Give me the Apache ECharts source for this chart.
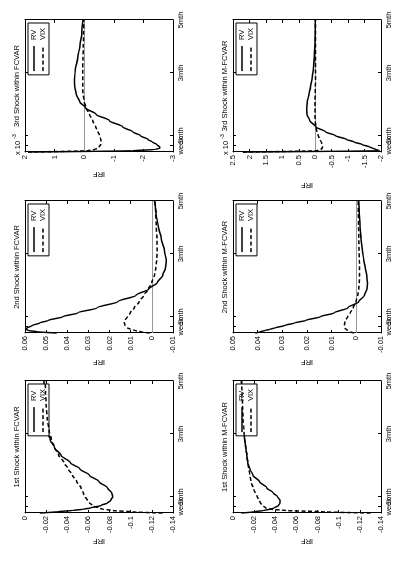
<!DOCTYPE html>
<html>
<head>
<meta charset="utf-8" />
<title>IRF FCVAR / M-FCVAR</title>
<style>
  html, body { margin: 0; padding: 0; background: #fff; }
  #wrap { position: absolute; left: 0; top: 0; width: 395px; height: 565px; overflow: hidden; }
  /* the figure is a landscape page turned a quarter turn anticlockwise */
  #chart { position: absolute; left: 0; top: 0; width: 565px; height: 395px;
           transform-origin: 0 0; transform: translateY(565px) rotate(-90deg); }
</style>
</head>
<body>
<div id="wrap"><div id="chart"></div></div>
<script src="https://cdn.jsdelivr.net/npm/echarts@6/dist/echarts.min.js"></script>
<script>
// horizon in trading days
var horizon = [0, 1, 2, 3, 4, 6, 8, 10, 13, 16, 20, 25, 30, 35, 40, 46, 52, 58, 65, 75, 85, 95, 105];
var horizonTicks = [5, 13, 63, 105];
var horizonLabels = ['week', '1mth', '3mth', '5mth'];
var seriesNames = ['RV', 'VIX'];

// FCVAR
var fcvar1RV  = [-0.014, -0.03, -0.045, -0.055, -0.062, -0.072, -0.078, -0.081, -0.083, -0.082, -0.078, -0.07, -0.061, -0.052, -0.043, -0.034, -0.028, -0.024, -0.021, -0.019, -0.0185, -0.018, -0.018];
var fcvar1VIX = [-0.13, -0.1, -0.083, -0.074, -0.069, -0.064, -0.061, -0.059, -0.057, -0.055, -0.053, -0.049, -0.045, -0.041, -0.037, -0.032, -0.028, -0.025, -0.023, -0.021, -0.02, -0.0195, -0.019];
var fcvar2RV  = [0.045, 0.054, 0.0585, 0.0595, 0.059, 0.0565, 0.053, 0.049, 0.042, 0.035, 0.026, 0.016, 0.0075, 0.0015, -0.0025, -0.0052, -0.0065, -0.0068, -0.006, -0.0045, -0.003, -0.002, -0.0013];
var fcvar2VIX = [0.001, 0.005, 0.008, 0.0102, 0.0115, 0.0127, 0.013, 0.0127, 0.0115, 0.0102, 0.0083, 0.006, 0.0038, 0.0016, 0.0, -0.0012, -0.0019, -0.0023, -0.0025, -0.0024, -0.0021, -0.0018, -0.0015];
// x 10^-3
var fcvar3RV  = [1.9, -1.6, -2.4, -2.55, -2.55, -2.45, -2.3, -2.15, -1.9, -1.65, -1.3, -0.85, -0.4, -0.05, 0.15, 0.27, 0.32, 0.33, 0.3, 0.22, 0.14, 0.08, 0.04];
var fcvar3VIX = [1.9, -0.1, -0.35, -0.45, -0.5, -0.56, -0.57, -0.56, -0.52, -0.47, -0.39, -0.29, -0.18, -0.07, 0.0, 0.04, 0.05, 0.05, 0.05, 0.04, 0.03, 0.02, 0.01];

// M-FCVAR
var mfcvar1RV  = [-0.008, -0.02, -0.029, -0.035, -0.039, -0.043, -0.0445, -0.0445, -0.042, -0.038, -0.032, -0.025, -0.019, -0.016, -0.014, -0.013, -0.012, -0.011, -0.0105, -0.0095, -0.009, -0.0085, -0.008];
var mfcvar1VIX = [-0.13, -0.085, -0.05, -0.036, -0.031, -0.028, -0.026, -0.025, -0.023, -0.021, -0.019, -0.017, -0.016, -0.015, -0.014, -0.013, -0.012, -0.011, -0.0105, -0.0095, -0.009, -0.0085, -0.008];
var mfcvar2RV  = [0.041, 0.039, 0.037, 0.035, 0.033, 0.029, 0.025, 0.0205, 0.0145, 0.009, 0.0035, -0.001, -0.0033, -0.0043, -0.0045, -0.0042, -0.0036, -0.003, -0.0025, -0.0019, -0.0015, -0.0012, -0.001];
var mfcvar2VIX = [0.001, 0.0025, 0.0035, 0.0042, 0.0046, 0.0048, 0.0047, 0.0043, 0.0035, 0.0025, 0.0012, 0.0001, -0.0006, -0.001, -0.0012, -0.0013, -0.0013, -0.0012, -0.0011, -0.001, -0.0009, -0.0008, -0.0008];
// x 10^-3
var mfcvar3RV  = [2.2, -1.95, -1.85, -1.75, -1.65, -1.42, -1.18, -0.95, -0.62, -0.32, -0.02, 0.17, 0.25, 0.26, 0.24, 0.19, 0.14, 0.1, 0.06, 0.03, 0.01, 0.0, 0.0];
var mfcvar3VIX = [2.2, -0.05, -0.17, -0.21, -0.22, -0.21, -0.18, -0.14, -0.09, -0.05, -0.02, 0.0, 0.01, 0.01, 0.01, 0.0, 0.0, -0.01, -0.01, -0.01, -0.01, -0.01, -0.01];

// value axis [min, max, step]
var irfAxis1  = [-0.14, 0, 0.02];
var irfAxis2F = [-0.01, 0.06, 0.01];
var irfAxis2M = [-0.01, 0.05, 0.01];
var irfAxis3F = [-3, 2, 1];
var irfAxis3M = [-2, 2.5, 0.5];

var _font = '"Liberation Sans", Arial, sans-serif';
var _fontSize = 7.5;
var _panelW = 132, _panelH = 148;

var panels = [
  { left: 52,  top: 25,  title: '1st Shock within FCVAR',   rv: fcvar1RV,  vix: fcvar1VIX,  axis: irfAxis1,  zero: false, gap: 24 },
  { left: 232, top: 25,  title: '2nd Shock within FCVAR',   rv: fcvar2RV,  vix: fcvar2VIX,  axis: irfAxis2F, zero: true,  gap: 25 },
  { left: 413, top: 25,  title: '3rd Shock within FCVAR',   rv: fcvar3RV,  vix: fcvar3VIX,  axis: irfAxis3F, zero: true,  gap: 18, exp: true },
  { left: 52,  top: 233, title: '1st Shock within M-FCVAR', rv: mfcvar1RV, vix: mfcvar1VIX, axis: irfAxis1,  zero: false, gap: 24 },
  { left: 232, top: 233, title: '2nd Shock within M-FCVAR', rv: mfcvar2RV, vix: mfcvar2VIX, axis: irfAxis2M, zero: true,  gap: 25 },
  { left: 413, top: 233, title: '3rd Shock within M-FCVAR', rv: mfcvar3RV, vix: mfcvar3VIX, axis: irfAxis3M, zero: true,  gap: 29, exp: true }
];

function pairs(xs, ys) {
  var out = [];
  for (var i = 0; i < xs.length; i++) out.push([xs[i], ys[i]]);
  return out;
}

// one horizon axis; labelAt picks which ticks carry a label on this axis
function timeAxis(idx, pos, labelAt, showLine) {
  return {
    type: 'value', gridIndex: idx, position: pos,
    min: 0, max: 105,
    axisLine: { show: showLine, onZero: false, lineStyle: { color: '#000', width: 1 } },
    axisTick: { show: showLine, inside: true, length: 3, customValues: horizonTicks, lineStyle: { color: '#000' } },
    axisLabel: {
      show: labelAt.length > 0, customValues: labelAt, margin: 4,
      fontSize: _fontSize, fontFamily: _font, color: '#000',
      formatter: function (v) { return horizonLabels[horizonTicks.indexOf(v)]; }
    },
    splitLine: { show: false }
  };
}

function irfAxis(idx, p, pos, showLabel) {
  return {
    type: 'value', gridIndex: idx, position: pos,
    min: p.axis[0], max: p.axis[1], interval: p.axis[2],
    name: showLabel ? 'IRF' : '', nameLocation: 'middle', nameGap: p.gap, nameRotate: 90,
    nameTextStyle: { fontSize: _fontSize, fontFamily: _font, color: '#000' },
    axisLine: { show: true, onZero: false, lineStyle: { color: '#000', width: 1 } },
    axisTick: { show: true, inside: true, length: 3, lineStyle: { color: '#000' } },
    axisLabel: { show: showLabel, margin: 3, fontSize: _fontSize, fontFamily: _font, color: '#000' },
    splitLine: { show: false }
  };
}

function buildOption() {
  var grid = [], xAxis = [], yAxis = [], series = [], legend = [], graphic = [];
  panels.forEach(function (p, i) {
    grid.push({ left: p.left, top: p.top, width: _panelW, height: _panelH, show: false });
    // week / 3mth / 5mth on the main axis, 1mth on its own so the two close labels both stay
    xAxis.push(
      timeAxis(i, 'bottom', [horizonTicks[0], horizonTicks[2], horizonTicks[3]], true),
      timeAxis(i, 'top', [], true),
      timeAxis(i, 'bottom', [horizonTicks[1]], false)
    );
    yAxis.push(irfAxis(i, p, 'left', true), irfAxis(i, p, 'right', false));

    var rv = {
      name: seriesNames[0], type: 'line', xAxisIndex: 3 * i, yAxisIndex: 2 * i,
      data: pairs(horizon, p.rv), symbol: 'none', smooth: 0.3, smoothMonotone: 'x',
      lineStyle: { color: '#000', width: 1.5 }, itemStyle: { color: '#000' }, z: 3
    };
    if (p.zero) {
      rv.markLine = {
        silent: true, symbol: 'none', label: { show: false },
        lineStyle: { color: '#999', width: 1, type: 'solid' },
        data: [{ yAxis: 0 }], z: 1
      };
    }
    series.push(rv, {
      name: seriesNames[1], type: 'line', xAxisIndex: 3 * i, yAxisIndex: 2 * i,
      data: pairs(horizon, p.vix), symbol: 'none', smooth: 0.3, smoothMonotone: 'x',
      lineStyle: { color: '#000', width: 1.5, type: [4, 2.5] }, itemStyle: { color: '#000' }, z: 4
    });

    legend.push({
      data: seriesNames, orient: 'vertical',
      right: 565 - (p.left + _panelW) + 3, top: p.top + 3,
      backgroundColor: '#fff', borderColor: '#000', borderWidth: 1, borderRadius: 0,
      padding: [2, 5, 2, 3], itemGap: 1, itemWidth: 25, itemHeight: 9,
      itemStyle: { opacity: 0, borderWidth: 0 },
      lineStyle: { color: '#000', width: 1.5 },
      textStyle: { fontSize: _fontSize, fontFamily: _font, color: '#000', padding: [0, 0, 0, 1] },
      selectedMode: false
    });

    graphic.push({
      type: 'text', x: p.left + _panelW / 2, y: p.top - 8, silent: true,
      style: { text: p.title, font: _fontSize + 'px ' + _font, fill: '#000', align: 'center', verticalAlign: 'middle' }
    });
    if (p.exp) {
      graphic.push({
        type: 'text', x: p.left - 3, y: p.top - 7, silent: true,
        style: { text: 'x 10', font: _fontSize + 'px ' + _font, fill: '#000', align: 'left', verticalAlign: 'middle' }
      }, {
        type: 'text', x: p.left + 13, y: p.top - 11, silent: true,
        style: { text: '-3', font: '5.5px ' + _font, fill: '#000', align: 'left', verticalAlign: 'middle' }
      });
    }
  });
  return {
    animation: false,
    backgroundColor: '#fff',
    grid: grid, xAxis: xAxis, yAxis: yAxis,
    legend: legend, series: series, graphic: graphic
  };
}

var myChart = echarts.init(document.getElementById('chart'), null, { renderer: 'canvas' });
myChart.setOption(buildOption());
</script>
</body>
</html>
